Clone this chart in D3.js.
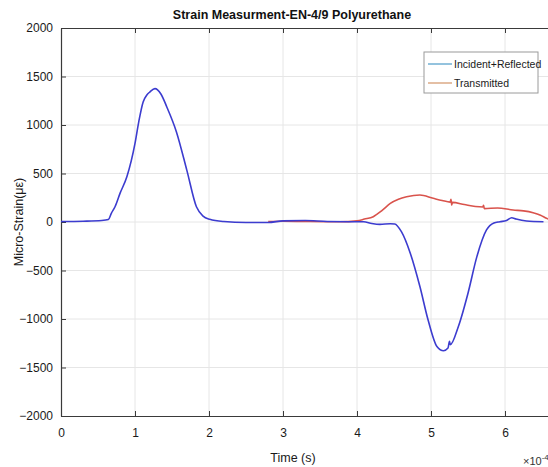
<!DOCTYPE html>
<html>
<head>
<meta charset="utf-8">
<script src="https://cdn.jsdelivr.net/npm/d3@7"></script>
<style>
  body { margin: 0; background: #fff; }
  svg { display: block; font-family: "Liberation Sans", Arial, sans-serif; }
</style>
</head>
<body>
<div id="app"></div>
<script>
// time in units of 1e-4 s
let incTime = [0, 0.3, 0.55, 0.64, 0.68, 0.73, 0.8, 0.89, 1.0, 1.05, 1.11, 1.16, 1.2, 1.27, 1.35, 1.43, 1.56, 1.70, 1.83, 1.92, 2.01, 2.2, 2.5, 2.8, 3.0, 3.3, 3.6, 3.9, 4.09, 4.2, 4.31, 4.45, 4.51, 4.6, 4.72, 4.85, 4.96, 5.08, 5.17, 5.23, 5.25, 5.26, 5.37, 5.50, 5.62, 5.75, 5.85, 5.93, 6.02, 6.09, 6.15, 6.29, 6.52];
let incStrain = [5, 8, 15, 25, 90, 157, 300, 466, 810, 1030, 1238, 1310, 1340, 1375, 1320, 1186, 929, 535, 157, 60, 28, 5, -5, -5, 12, 15, 5, 3, 3, -15, -24, -18, -20, -100, -322, -665, -1008, -1283, -1327, -1300, -1230, -1265, -1077, -734, -357, -82, -10, 3, 15, 44, 30, 10, 3];

let trTime = [2.8, 3.0, 3.3, 3.6, 3.77, 4.0, 4.1, 4.22, 4.34, 4.45, 4.56, 4.67, 4.85, 5.03, 5.15, 5.26, 5.27, 5.28, 5.29, 5.45, 5.6, 5.70, 5.71, 5.72, 5.9, 6.11, 6.25, 6.38, 6.48, 6.56, 6.6];
let trStrain = [5, 8, 5, 3, 3, 12, 30, 55, 120, 192, 235, 260, 278, 244, 222, 205, 235, 175, 202, 180, 160, 155, 172, 138, 145, 123, 115, 96, 70, 38, 25];

let legendLabels = ['Incident+Reflected', 'Transmitted'];
let xTicks = [0, 1, 2, 3, 4, 5, 6];
let yTicks = [-2000, -1500, -1000, -500, 0, 500, 1000, 1500, 2000];

let svgWidth = 548;
let svgHeight = 467;

let margin = {top: 28, right: 0, bottom: 51, left: 61},
    plotRight = 61 + 6.6 * 74;

let svg = d3.select('#app').append('svg')
    .attr('width', svgWidth)
    .attr('height', svgHeight);

let x = d3.scaleLinear().domain([0, 6.6]).range([margin.left, plotRight]);
let y = d3.scaleLinear().domain([-2000, 2000]).range([svgHeight - margin.bottom, margin.top]);

        //grid
let grid = svg.append('g').attr('class', 'grid');
grid.selectAll('line.vx')
    .data(xTicks.slice(1))
    .enter().append('line')
        .attr('x1', d => x(d)).attr('x2', d => x(d))
        .attr('y1', y(2000)).attr('y2', y(-2000))
        .attr('stroke', '#e6e6e6');
grid.selectAll('line.hy')
    .data(yTicks.slice(1, -1))
    .enter().append('line')
        .attr('x1', x(0)).attr('x2', svgWidth)
        .attr('y1', d => y(d)).attr('y2', d => y(d))
        .attr('stroke', '#e6e6e6');

        //axes (MATLAB style, ticks inside)
let xAxis = svg.append('g')
    .attr('transform', `translate(0,${y(-2000)})`)
    .call(d3.axisBottom(x).tickValues(xTicks).tickFormat(d3.format('d')).tickSizeInner(-5).tickSizeOuter(0).tickPadding(12));
let xAxisTop = svg.append('g')
    .attr('transform', `translate(0,${y(2000)})`)
    .call(d3.axisTop(x).tickValues(xTicks).tickSizeInner(-5).tickSizeOuter(0).tickFormat(''));
let yAxis = svg.append('g')
    .attr('transform', `translate(${x(0)},0)`)
    .call(d3.axisLeft(y).tickValues(yTicks).tickFormat(d3.format('d')).tickSizeInner(-5).tickSizeOuter(0).tickPadding(8));

[xAxis, xAxisTop, yAxis].forEach(a => {
    a.select('.domain').attr('stroke', '#3a3a3a').attr('stroke-width', 1.2);
    a.selectAll('.tick line').attr('stroke', '#3a3a3a');
    a.selectAll('.tick text').attr('fill', '#1a1a1a').style('font-size', '12px')
        .style('font-family', '"Liberation Sans", Arial, sans-serif');
});

        //lines
let line = d3.line()
    .x(d => x(d[0]))
    .y(d => y(d[1]))
    .curve(d3.curveMonotoneX);

svg.append('clipPath').attr('id', 'plotclip')
    .append('rect')
    .attr('x', x(0)).attr('y', y(2000))
    .attr('width', plotRight - x(0)).attr('height', y(-2000) - y(2000));

svg.append('path')
    .datum(trTime.map((t, i) => [t, trStrain[i]]))
    .attr('d', line)
    .attr('fill', 'none')
    .attr('stroke', '#d9534c')
    .attr('stroke-width', 1.6)
    .attr('clip-path', 'url(#plotclip)');

svg.append('path')
    .datum(incTime.map((t, i) => [t, incStrain[i]]))
    .attr('d', line)
    .attr('fill', 'none')
    .attr('stroke', '#3c3ccf')
    .attr('stroke-width', 1.6)
    .attr('clip-path', 'url(#plotclip)');

        //title and labels
svg.append('text')
    .attr('x', 292).attr('y', 19)
    .attr('text-anchor', 'middle')
    .style('font-size', '12.5px')
    .style('font-weight', 'bold')
    .attr('fill', '#111')
    .text('Strain Measurment-EN-4/9 Polyurethane');

svg.append('text')
    .attr('x', 293).attr('y', 462)
    .attr('text-anchor', 'middle')
    .style('font-size', '12.5px')
    .attr('fill', '#1a1a1a')
    .text('Time (s)');

svg.append('text')
    .attr('transform', `translate(23,${y(0)}) rotate(-90)`)
    .attr('text-anchor', 'middle')
    .style('font-size', '12.5px')
    .attr('fill', '#1a1a1a')
    .text('Micro-Strain(με)');

let expo = svg.append('text')
    .attr('x', 523).attr('y', 465)
    .style('font-size', '11px')
    .attr('fill', '#333');
expo.append('tspan').text('×10');
expo.append('tspan').attr('dy', -5).style('font-size', '8px').text('-4');

        //legend
let legend = svg.append('g').attr('transform', 'translate(424,52)');
legend.append('rect')
    .attr('width', 114).attr('height', 41)
    .attr('fill', '#fff')
    .attr('stroke', '#9a9a9a');
let legendColors = ['#79b4d6', '#deb08e'];
legendLabels.forEach((label, i) => {
    let g = legend.append('g').attr('transform', `translate(0,${12 + i * 19})`);
    g.append('line')
        .attr('x1', 4).attr('x2', 28)
        .attr('stroke', legendColors[i]).attr('stroke-width', 1.6);
    g.append('text')
        .attr('x', 30).attr('y', 4)
        .style('font-size', '10.5px')
        .attr('fill', '#1a1a1a')
        .text(label);
});
</script>
</body>
</html>
